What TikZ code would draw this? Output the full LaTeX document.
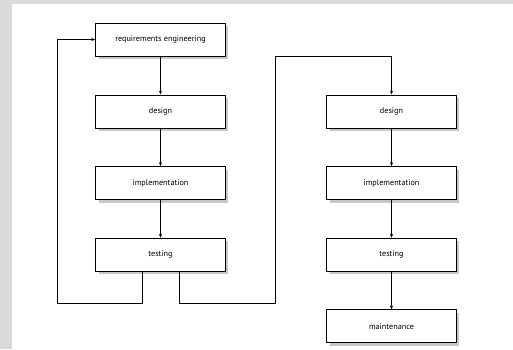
\documentclass[tikz,border=0pt]{standalone}
\usepackage{fontspec}
\setmainfont{PT Sans}
\usetikzlibrary{arrows.meta,positioning,calc,shadows}

\begin{document}
\begin{tikzpicture}[
    >={Stealth[length=4pt,width=3.2pt]},
    x=1pt, y=-1pt,
    phase/.style={draw,line width=0.8pt,fill=white,minimum width=129.6pt,minimum height=33pt,
                  inner sep=1pt,font=\fontsize{8.2}{9.5}\selectfont,
                  drop shadow={fill=black!22,opacity=1,shadow xshift=3pt,shadow yshift=-3pt}},
    flow/.style={->,line width=0.7pt},
    loop/.style={line width=0.7pt},
  ]

  % --- page and panel ---
  \useasboundingbox (0,0) rectangle (513,349);
  \fill[black!15] (0,0) rectangle (513,349);
  \fill[white] (12,4) rectangle (513,349);

  % --- first pass ---
  \node[phase] (req) at (160.5,39.5)  {requirements engineering};
  \node[phase] (d1)  at (160.5,111.4) {design};
  \node[phase] (i1)  at (160.5,183.1) {implementation};
  \node[phase] (t1)  at (160.5,254.6) {testing};
  \draw[flow] (req) -- (d1);
  \draw[flow] (d1) -- (i1);
  \draw[flow] (i1) -- (t1);

  % --- second pass ---
  \node[phase] (d2) at (391.5,111.4) {design};
  \node[phase] (i2) at (391.5,183.1) {implementation};
  \node[phase] (t2) at (391.5,254.6) {testing};
  \node[phase] (m2) at (391.5,326.3) {maintenance};
  \draw[flow] (d2) -- (i2);
  \draw[flow] (i2) -- (t2);
  \draw[flow] (t2) -- (m2);

  % --- iteration back to requirements ---
  \coordinate (backlo) at (57.7,303);
  \draw[loop,->] ([xshift=-18.3pt]t1.south) |- (backlo) |- (req.west);

  % --- hand-over to the second pass ---
  \coordinate (overlo) at (275,303);
  \coordinate (overhi) at (275,56.7);
  \draw[loop,->] ([xshift=18.8pt]t1.south) |- (overlo) -- (overhi) -| (d2.north);

\end{tikzpicture}
\end{document}
